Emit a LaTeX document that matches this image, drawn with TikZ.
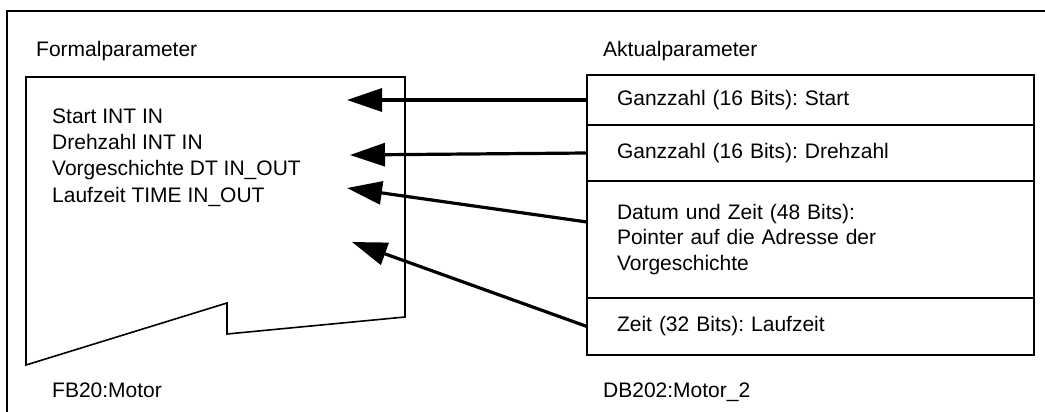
\documentclass[tikz,border=0pt]{standalone}
\usepackage{fontspec}
\setmainfont{Liberation Sans}
\usetikzlibrary{positioning,arrows.meta}
\frenchspacing

\begin{document}
\begin{tikzpicture}[x=1pt, y=-1pt]
    \tikzstyle{field} = [rectangle, draw, line width=1.8pt, minimum width=447pt, text width=387pt,
                                      inner xsep=30pt, outer sep=0pt, align=left,
                                      font=\fontsize{21}{25.5}\selectfont]
    \tikzstyle{lbl} = [inner sep=0pt, anchor=west, font=\fontsize{21}{26.3}\selectfont]
    \tikzstyle{link} = [-{Triangle[length=35pt, width=23pt]}, line width=3.2pt]
  \useasboundingbox (0,0) rectangle (1045,412);
  % frame
  \draw[line width=1.8pt] (1045,11) -- (7,11) -- (7,412);
  % function block
  \draw[line width=1.6pt] (26,77) -- (405,77) -- (405,317) -- (227,334) -- (227,303) -- (26,365) -- cycle;
  \node[lbl](formal) at (36,51){Formalparameter};
  \node[lbl, align=left](params) at (52,157.5){Start INT IN\\Drehzahl INT IN\\Vorgeschichte DT IN\_OUT\\Laufzeit TIME IN\_OUT};
  \node[lbl](fb) at (52,390){FB20:Motor};
  % data block
  \node[lbl](actual) at (603,51){Aktualparameter};
  \node[field, anchor=north west, minimum height=50pt](start) at (587,75){Ganzzahl (16 Bits): Start};
  \node[field, below=0pt of start, minimum height=56pt](speed){Ganzzahl (16 Bits): Drehzahl};
  \node[field, below=0pt of speed, minimum height=117pt](history){Datum und Zeit (48 Bits):\\Pointer auf die Adresse der\\Vorgeschichte};
  \node[field, below=0pt of history, minimum height=57pt](runtime){Zeit (32 Bits): Laufzeit};
  \node[lbl](db) at (603,392){DB202:Motor\_2};
  \coordinate (inStart) at (347,100);
  \coordinate (inSpeed) at (350,155);
  \coordinate (inHistory) at (347,188);
  \coordinate (inRuntime) at (352,242);
  \draw[link] (start.west) -- (inStart);
  \draw[link] (speed.west) -- (inSpeed);
  \draw[link] ([yshift=17.5pt]history.west) -- (inHistory);
  \draw[link] (runtime.west) -- (inRuntime);
  \end{tikzpicture}
\end{document}
